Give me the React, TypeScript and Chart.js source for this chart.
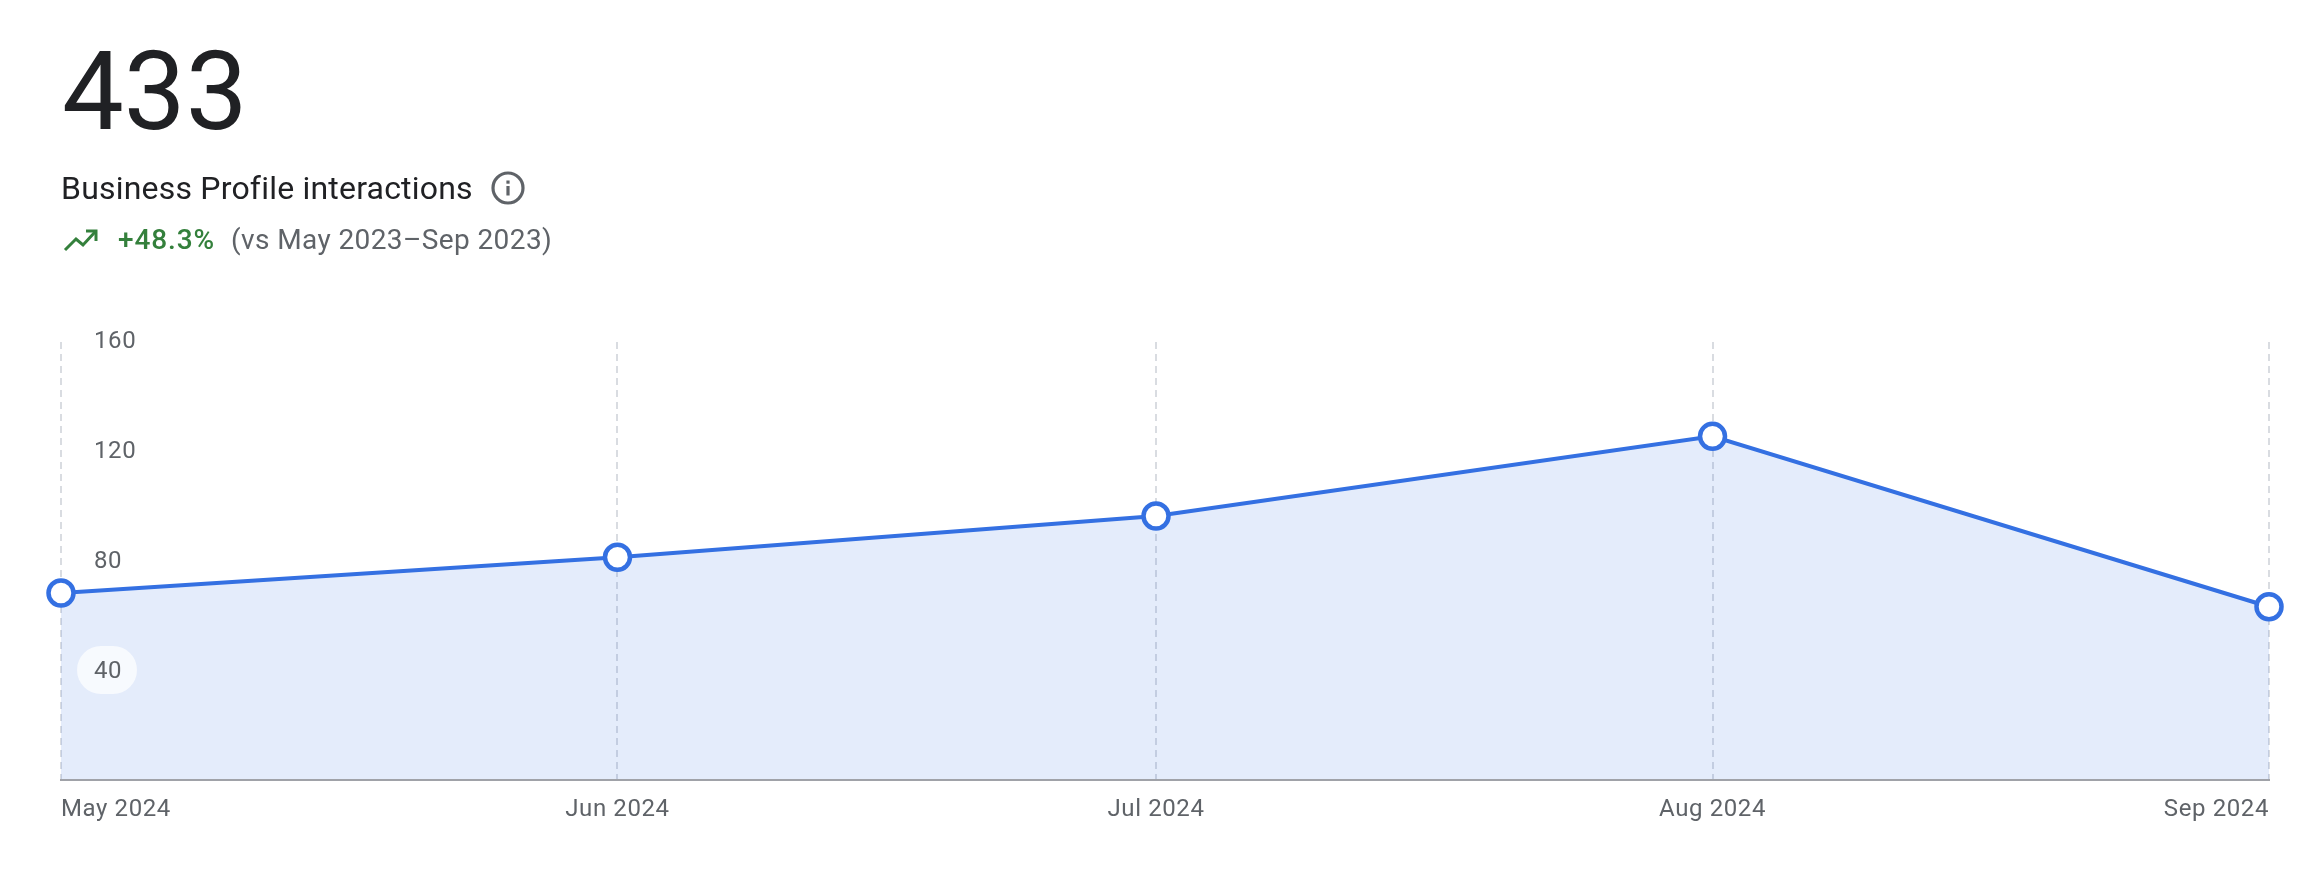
import React, { useEffect, useRef } from "react";
import { Chart, registerables } from "chart.js";

Chart.register(...registerables);

const totalValue = "433";
const metricTitle = "Business Profile interactions";
const changeText = "+48.3%";
const compareText = "(vs May 2023–Sep 2023)";
const monthLabels = ["May 2024", "Jun 2024", "Jul 2024", "Aug 2024", "Sep 2024"];
const dayOffsets = [0, 31, 61, 92, 123];
const interactions = [68, 81, 96, 125, 63];
const yTicks = [0, 40, 80, 120, 160];

const pillPlugin = {
  id: "tickPills",
  beforeDraw(chart: any) {
    chart.ctx.letterSpacing = "0.6px";
  },
  afterDatasetsDraw(chart: any) {
    const { ctx, scales } = chart;
    const y = scales.y;
    ctx.save();
    ctx.fillStyle = "rgba(255,255,255,0.72)";
    yTicks.filter((t) => t > 0).forEach((t) => {
      const py = y.getPixelForValue(t);
      ctx.beginPath();
      ctx.roundRect(77, py - 24, 60, 48, 24);
      ctx.fill();
    });
    ctx.restore();
  },
};

export default function App() {
  const ref = useRef<HTMLCanvasElement>(null);
  useEffect(() => {
    const chart = new Chart(ref.current!, {
      type: "line",
      data: {
        datasets: [
          {
            data: dayOffsets.map((x, i) => ({ x, y: interactions[i] })),
            borderColor: "#3470e2",
            borderWidth: 4,
            backgroundColor: "rgba(51,112,224,0.135)",
            fill: "origin",
            tension: 0,
            pointRadius: 12.5,
            pointBorderWidth: 4.5,
            pointBorderColor: "#3470e2",
            pointBackgroundColor: "#ffffff",
            clip: false,
          },
        ],
      },
      plugins: [pillPlugin],
      options: {
        responsive: false,
        animation: false,
        layout: { padding: { left: 61, right: 29, top: 342, bottom: 0 } },
        plugins: { legend: { display: false }, tooltip: { enabled: false } },
        scales: {
          x: {
            type: "linear",
            min: dayOffsets[0],
            max: dayOffsets[dayOffsets.length - 1],
            afterBuildTicks: (s: any) => {
              s.ticks = dayOffsets.map((value) => ({ value }));
            },
            afterFit: (s: any) => {
              s.height = 90;
              s.paddingLeft = 0;
              s.paddingRight = 0;
            },
            grid: { color: "#d9dce1", lineWidth: 2, drawTicks: false },
            border: { color: "#a0a2a8", width: 2, dash: [7, 5], z: 1 },
            ticks: {
              autoSkip: false,
              maxRotation: 0,
              align: "inner",
              padding: 16,
              color: "#5f6368",
              font: { family: "Roboto", size: 24 },
              callback: (v: any) => monthLabels[dayOffsets.indexOf(v)],
            },
          },
          y: {
            min: 0,
            max: 159.3,
            afterBuildTicks: (s: any) => {
              s.ticks = yTicks.map((value) => ({ value }));
            },
            afterFit: (s: any) => {
              s.width = 0;
              s.paddingTop = 0;
              s.paddingBottom = 0;
            },
            grid: { display: false },
            border: { display: false },
            ticks: {
              mirror: true,
              z: 1,
              padding: 33,
              labelOffset: 1.5,
              color: "#5f6368",
              font: { family: "Roboto", size: 24 },
              callback: (v: any) => (v === 0 ? "" : String(v)),
            },
          },
        },
      },
    } as any);
    return () => chart.destroy();
  }, []);

  const abs = (left: number, top: number, size: number, color: string, extra: any = {}) => ({
    position: "absolute" as const,
    left,
    top,
    fontFamily: "Roboto",
    fontSize: size,
    lineHeight: `${size}px`,
    color,
    whiteSpace: "nowrap" as const,
    ...extra,
  });

  return (
    <div style={{ position: "absolute", left: 0, top: 0, width: 2298, height: 870, background: "#fff", overflow: "hidden" }}>
      <canvas ref={ref} width={2298} height={870} style={{ position: "absolute", left: 0, top: 0, width: 2298, height: 870 }} />
      <span style={abs(62, 37, 110, "#202124")}>{totalValue}</span>
      <span style={abs(61, 172, 32, "#202124", { letterSpacing: 0.2 })}>{metricTitle}</span>
      <svg style={{ position: "absolute", left: 490, top: 170 }} width="36" height="36" viewBox="0 0 36 36">
        <circle cx="18" cy="18" r="15" fill="none" stroke="#5f6368" strokeWidth="3.2" />
        <rect x="16.4" y="16" width="3.2" height="9.5" fill="#5f6368" />
        <rect x="16.4" y="10.5" width="3.2" height="3.2" fill="#5f6368" />
      </svg>
      <svg style={{ position: "absolute", left: 63, top: 228 }} width="36" height="24" viewBox="0 0 36 24">
        <path d="M2 22 L13 11 L20 17 L32 4" fill="none" stroke="#34803c" strokeWidth="3" />
        <path d="M23 3 L33 3 L33 13" fill="none" stroke="#34803c" strokeWidth="3" />
      </svg>
      <span style={abs(118, 226, 28, "#34803c", { fontWeight: 500, letterSpacing: 0.9 })}>{changeText}</span>
      <span style={abs(231, 226, 28, "#5f6368", { letterSpacing: 0.4 })}>{compareText}</span>
    </div>
  );
}
